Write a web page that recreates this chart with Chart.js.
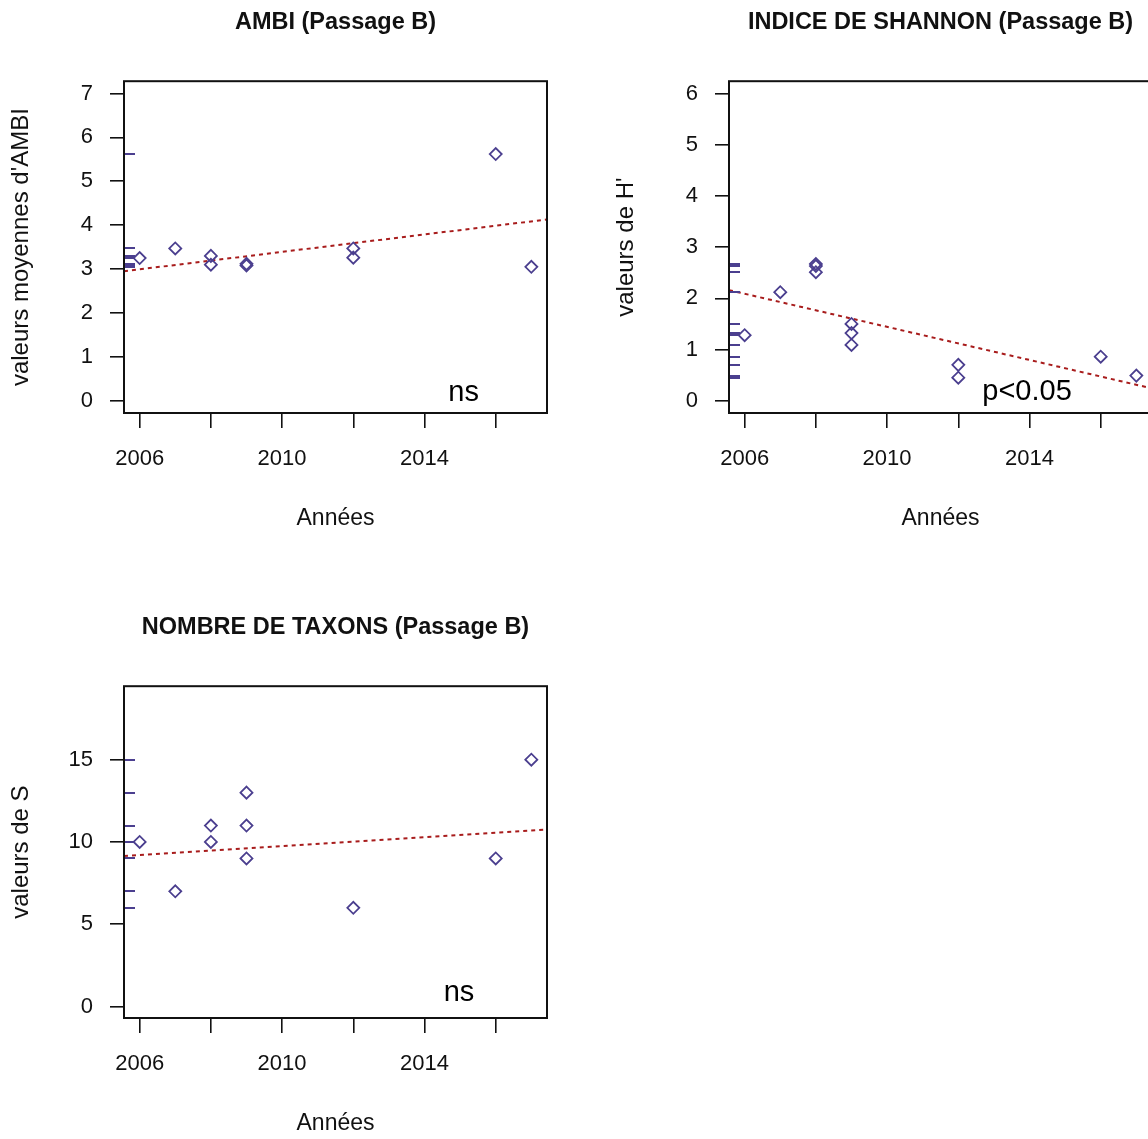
<!DOCTYPE html>
<html lang="fr">
<head>
<meta charset="utf-8">
<title>Passage B</title>
<script src="https://cdn.jsdelivr.net/npm/chart.js@4.4.1/dist/chart.umd.min.js"></script>
<style>
  html, body { margin: 0; padding: 0; background: #fff; overflow: hidden; }
  body { position: relative; width: 1148px; height: 1139px; }
  canvas { position: absolute; }
</style>
</head>
<body>
<canvas id="ambi" width="574" height="545" style="left:0;top:0"></canvas>
<canvas id="shannon" width="574" height="545" style="left:605px;top:0"></canvas>
<canvas id="taxons" width="574" height="545" style="left:0;top:605px"></canvas>
<script>
// x axis (years)
const yearMin = 2005.56
const yearMax = 2017.44
const yearTicks = [2006, 2008, 2010, 2012, 2014, 2016]
const yearLabels = ['2006', '', '2010', '', '2014', '']

// AMBI
const ambiYears = [2006, 2007, 2008, 2008, 2009, 2009, 2012, 2012, 2016, 2017]
const ambiValues = [3.25, 3.47, 3.30, 3.10, 3.12, 3.08, 3.47, 3.26, 5.62, 3.05]
const ambiTicks = [0, 1, 2, 3, 4, 5, 6, 7]

// Shannon H'
const shannonYears = [2006, 2007, 2008, 2008, 2008, 2009, 2009, 2009, 2012, 2012, 2016, 2017]
const shannonValues = [1.28, 2.12, 2.67, 2.63, 2.51, 1.50, 1.32, 1.09, 0.70, 0.45, 0.86, 0.49]
const shannonTicks = [0, 1, 2, 3, 4, 5, 6]

// taxa count S
const taxonYears = [2006, 2007, 2008, 2008, 2009, 2009, 2009, 2012, 2016, 2017]
const taxonValues = [10, 7, 11, 10, 13, 11, 9, 6, 9, 15]
const taxonTicks = [0, 5, 10, 15]

// regression lines, values at the two ends of the year axis
const trendYears = [yearMin, yearMax]
const ambiTrend = [2.95, 4.13]
const shannonTrend = [2.16, 0.24]
const taxonTrend = [9.15, 10.76]

const POINT_COLOR = '#4b3f8f'
const TREND_COLOR = '#a81c1c'
const TEXT_COLOR = '#111'
const R_FONT = '"Liberation Sans", Arial, sans-serif'

// frame, rug on the y axis and the significance note
const panelDecor = {
  id: 'panelDecor',
  afterDatasetsDraw (chart, args, opts) {
    const { ctx, chartArea: a, scales: { x, y } } = chart
    ctx.save()
    ctx.strokeStyle = POINT_COLOR
    ctx.lineWidth = 2
    opts.rug.forEach(v => {
      const py = Math.round(y.getPixelForValue(v))
      ctx.beginPath()
      ctx.moveTo(a.left, py)
      ctx.lineTo(a.left + 11, py)
      ctx.stroke()
    })
    ctx.strokeStyle = '#111'
    ctx.lineWidth = 2
    ctx.strokeRect(a.left, a.top, a.right - a.left, a.bottom - a.top)
    ctx.font = '29px "Liberation Sans", Arial, sans-serif'
    ctx.fillStyle = '#000'
    ctx.textAlign = 'center'
    ctx.textBaseline = 'alphabetic'
    ctx.fillText(opts.note.text, x.getPixelForValue(opts.note.x), y.getPixelForValue(opts.note.y))
    ctx.restore()
  }
}

const makePanel = (id, { title, yTitle, years, values, trend, yMin, yMax, yTicks, note }) => {
  const ctx = document.getElementById(id).getContext('2d')
  return new Chart(ctx, {
    type: 'scatter',
    data: {
      datasets: [
        {
          data: years.map((x, i) => ({ x, y: values[i] })),
          pointStyle: 'rectRot',
          pointRadius: 6,
          pointBorderWidth: 1.8,
          pointBorderColor: POINT_COLOR,
          pointBackgroundColor: 'rgba(0,0,0,0)'
        },
        {
          data: trendYears.map((x, i) => ({ x, y: trend[i] })),
          showLine: true,
          borderColor: TREND_COLOR,
          borderWidth: 2,
          borderDash: [4, 4],
          pointRadius: 0
        }
      ]
    },
    options: {
      responsive: false,
      animation: false,
      layout: { padding: { left: 0, right: 27, top: 0, bottom: 0 } },
      plugins: {
        legend: { display: false },
        tooltip: { enabled: false },
        title: {
          display: true,
          fullSize: false,
          text: title,
          color: TEXT_COLOR,
          font: { family: R_FONT, size: 23.5, weight: 'bold', lineHeight: 1.2 },
          padding: { top: 8, bottom: 45 }
        },
        panelDecor: { rug: values, note }
      },
      scales: {
        x: {
          type: 'linear',
          min: yearMin,
          max: yearMax,
          afterBuildTicks: scale => { scale.ticks = yearTicks.map(value => ({ value })) },
          afterFit: scale => { scale.height = 132 },
          border: { display: false },
          grid: { drawOnChartArea: false, drawTicks: true, tickLength: 15, color: '#111', lineWidth: 1.6 },
          ticks: {
            autoSkip: false,
            maxRotation: 0,
            padding: 18,
            color: TEXT_COLOR,
            font: { family: R_FONT, size: 22 },
            callback: (value, index) => yearLabels[index]
          },
          title: {
            display: true,
            text: 'Années',
            color: TEXT_COLOR,
            font: { family: R_FONT, size: 23 },
            padding: { top: 0, bottom: 13 }
          }
        },
        y: {
          min: yMin,
          max: yMax,
          afterBuildTicks: scale => { scale.ticks = yTicks.map(value => ({ value })) },
          afterFit: scale => { scale.width = 124 },
          border: { display: false },
          grid: { drawOnChartArea: false, drawTicks: true, tickLength: 14, color: '#111', lineWidth: 1.6 },
          ticks: {
            padding: 17,
            color: TEXT_COLOR,
            font: { family: R_FONT, size: 22 },
            callback: value => String(value)
          },
          title: {
            display: true,
            text: yTitle,
            color: TEXT_COLOR,
            font: { family: R_FONT, size: 24 },
            padding: { top: 7, bottom: 0 }
          }
        }
      }
    },
    plugins: [panelDecor]
  })
}

makePanel('ambi', {
  title: 'AMBI (Passage B)',
  yTitle: "valeurs moyennes d'AMBI",
  years: ambiYears,
  values: ambiValues,
  trend: ambiTrend,
  yMin: -0.28,
  yMax: 7.28,
  yTicks: ambiTicks,
  note: { text: 'ns', x: 2015.1, y: 0.0 }
})

makePanel('shannon', {
  title: 'INDICE DE SHANNON (Passage B)',
  yTitle: "valeurs de H'",
  years: shannonYears,
  values: shannonValues,
  trend: shannonTrend,
  yMin: -0.24,
  yMax: 6.24,
  yTicks: shannonTicks,
  note: { text: 'p<0.05', x: 2013.93, y: 0.02 }
})

makePanel('taxons', {
  title: 'NOMBRE DE TAXONS (Passage B)',
  yTitle: 'valeurs de S',
  years: taxonYears,
  values: taxonValues,
  trend: taxonTrend,
  yMin: -0.7,
  yMax: 19.47,
  yTicks: taxonTicks,
  note: { text: 'ns', x: 2014.97, y: 0.34 }
})
</script>
</body>
</html>
